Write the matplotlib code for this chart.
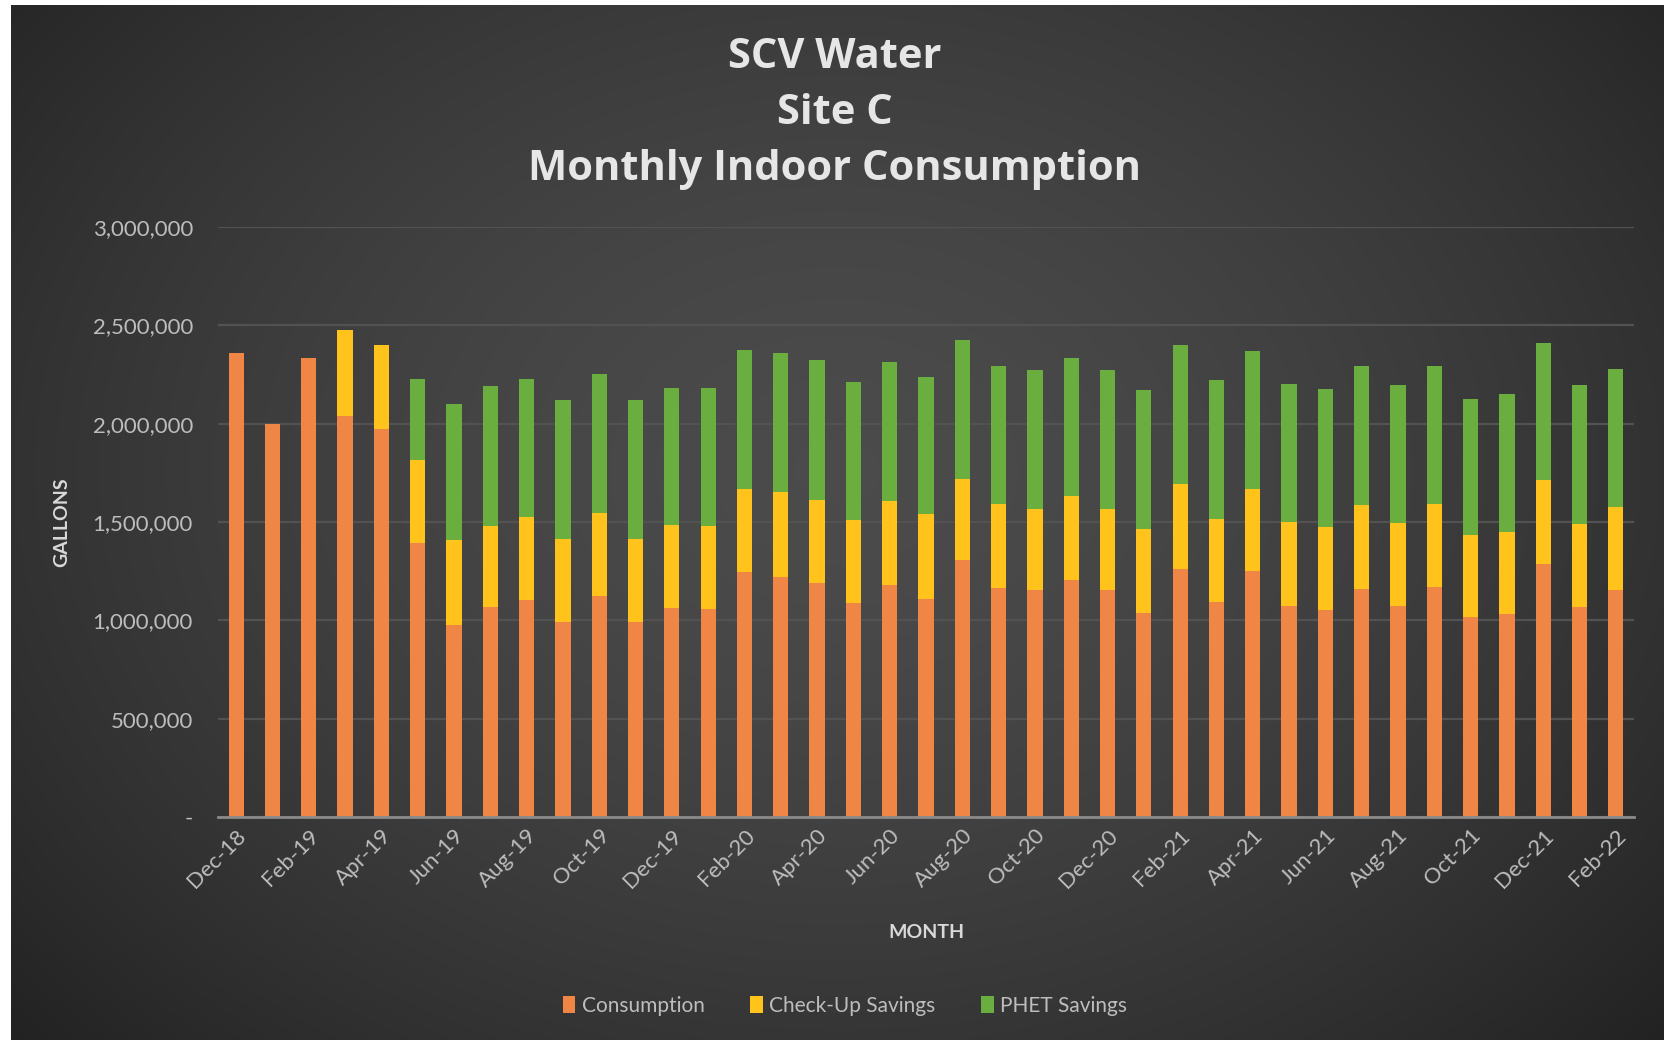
import numpy as np
import matplotlib
matplotlib.use("Agg")
import matplotlib.pyplot as plt
from matplotlib.patches import Patch

months = ["Dec-18", "Jan-19", "Feb-19", "Mar-19", "Apr-19", "May-19", "Jun-19", "Jul-19",
          "Aug-19", "Sep-19", "Oct-19", "Nov-19", "Dec-19", "Jan-20", "Feb-20", "Mar-20",
          "Apr-20", "May-20", "Jun-20", "Jul-20", "Aug-20", "Sep-20", "Oct-20", "Nov-20",
          "Dec-20", "Jan-21", "Feb-21", "Mar-21", "Apr-21", "May-21", "Jun-21", "Jul-21",
          "Aug-21", "Sep-21", "Oct-21", "Nov-21", "Dec-21", "Jan-22", "Feb-22"]

consumption = [2359000, 2000000, 2336000, 2037000, 1975000, 1393000, 975000, 1068000,
               1102000, 992000, 1122000, 992000, 1064000, 1059000, 1246000, 1220000,
               1190000, 1088000, 1178000, 1110000, 1305000, 1166000, 1153000, 1207000,
               1153000, 1037000, 1263000, 1093000, 1251000, 1071000, 1054000, 1161000,
               1071000, 1169000, 1017000, 1034000, 1288000, 1068000, 1156000]

checkup_savings = [0, 0, 0, 438000, 423000, 424000, 432000, 412000,
                   423000, 423000, 424000, 423000, 419000, 419000, 423000, 432000,
                   424000, 420000, 429000, 429000, 415000, 427000, 415000, 423000,
                   415000, 429000, 432000, 424000, 418000, 429000, 421000, 424000,
                   424000, 424000, 415000, 415000, 424000, 424000, 420000]

phet_savings = [0, 0, 0, 0, 0, 412000, 691000, 710000,
                704000, 707000, 705000, 707000, 700000, 705000, 707000, 707000,
                708000, 704000, 707000, 698000, 704000, 699000, 707000, 706000,
                707000, 703000, 703000, 703000, 700000, 703000, 703000, 707000,
                700000, 699000, 695000, 704000, 698000, 703000, 704000]

y_ticks = [0, 500000, 1000000, 1500000, 2000000, 2500000, 3000000]
y_tick_labels = ["-", "500,000", "1,000,000", "1,500,000", "2,000,000", "2,500,000", "3,000,000"]

series_names = ["Consumption", "Check-Up Savings", "PHET Savings"]
colors = ["#EF8645", "#FFC31C", "#6AAE40"]

W, H = 1664, 1045
fig = plt.figure(figsize=(W / 100, H / 100), dpi=100, facecolor="white")

# dark radial-gradient background
bg = fig.add_axes([11 / W, 5 / H, 1 - 11 / W, (1040 - 5) / H])
bg.set_axis_off()
gx, gy = np.meshgrid(np.linspace(0, 1, 400), np.linspace(0, 1, 260))
r = np.sqrt(((gx - 0.50) / 0.62) ** 2 + ((gy - 0.45) / 0.75) ** 2)
shade = np.clip(0.295 - 0.14 * r ** 1.6, 0.12, 0.30)
bg.imshow(np.dstack([shade, shade, shade]), aspect="auto", extent=[0, 1, 0, 1],
          interpolation="bilinear")
bg.set_xlim(0, 1)
bg.set_ylim(0, 1)

ax = fig.add_axes([218 / W, 1 - 817 / H, (1634 - 218) / W, (817 - 227) / H])
ax.set_facecolor("none")

x = np.arange(len(months))
cons = np.array(consumption)
chk = np.array(checkup_savings)
phet = np.array(phet_savings)
bw = 0.42
ax.bar(x, cons, bw, color=colors[0], zorder=3, linewidth=0)
ax.bar(x, chk, bw, bottom=cons, color=colors[1], zorder=3, linewidth=0)
ax.bar(x, phet, bw, bottom=cons + chk, color=colors[2], zorder=3, linewidth=0)

ax.set_xlim(-0.5, len(months) - 0.5)
ax.set_ylim(0, 3000000)
ax.set_yticks(y_ticks)
ax.set_yticklabels(y_tick_labels)
ax.set_xticks(x[::2])
ax.set_xticklabels(months[::2], rotation=45, ha="right", rotation_mode="anchor")

tick_font = "Lato"
for lab in ax.get_yticklabels():
    lab.set_fontfamily(tick_font)
    lab.set_fontsize(16)
    lab.set_color("#bdbdbd")
for lab in ax.get_xticklabels():
    lab.set_fontfamily(tick_font)
    lab.set_fontsize(16)
    lab.set_color("#bdbdbd")
ax.tick_params(axis="both", length=0)
ax.tick_params(axis="y", pad=18)
ax.tick_params(axis="x", pad=6)

ax.grid(axis="y", color="#525252", linewidth=1.6, zorder=0)
for s in ["top", "right", "left"]:
    ax.spines[s].set_visible(False)
ax.spines["bottom"].set_color("#8a8a8a")
ax.spines["bottom"].set_linewidth(2)
ax.spines["bottom"].set_zorder(4)

title_kw = dict(ha="center", va="center", color="#e6e6e6", fontsize=30,
                fontweight="bold", family="Open Sans")
fig.text(835 / W, 1 - 58 / H, "SCV Water", **title_kw)
fig.text(835 / W, 1 - 113 / H, "Site C", **title_kw)
fig.text(835 / W, 1 - 170 / H, "Monthly Indoor Consumption", **title_kw)

fig.text(62 / W, 1 - 522 / H, "GALLONS", rotation=90, ha="center", va="center",
         color="#d9d9d9", fontsize=14, fontweight="bold", family=tick_font)
fig.text(926 / W, 1 - 932 / H, "MONTH", ha="center", va="center",
         color="#d9d9d9", fontsize=14, fontweight="bold", family=tick_font)

handles = [Patch(facecolor=c, edgecolor="none") for c in colors]
leg = fig.legend(handles, series_names, loc="center", bbox_to_anchor=(845 / W, 1 - 1006 / H),
                 ncol=3, frameon=False, handlelength=0.6, handleheight=0.9,
                 handletextpad=0.3, columnspacing=2.2,
                 prop={"family": tick_font, "size": 15})
for t in leg.get_texts():
    t.set_color("#bdbdbd")

fig.savefig("out.png", dpi=100, facecolor="white")
